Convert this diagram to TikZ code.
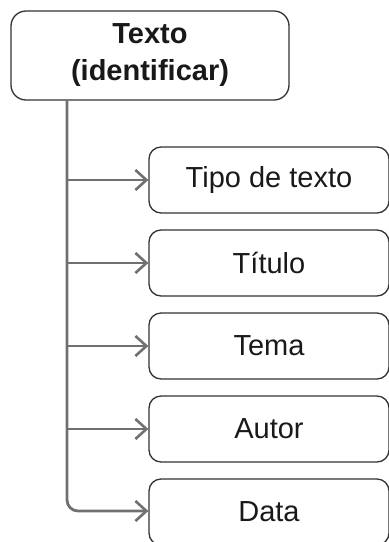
\documentclass[tikz,border=0pt]{standalone}
\usepackage{fontspec}
\setmainfont{Liberation Sans}
\usetikzlibrary{arrows.meta}
\definecolor{boxline}{HTML}{333333}
\definecolor{conn}{HTML}{707070}
\begin{document}
\begin{tikzpicture}[x=1pt,y=-1pt,
  topbox/.style={draw=boxline, line width=1.3pt, rounded corners=15pt, minimum width=278pt, minimum height=89pt, align=center, font=\fontsize{29}{37}\selectfont\bfseries, text=black!90},
  itembox/.style={draw=boxline, line width=1.3pt, rounded corners=12pt, minimum width=240pt, minimum height=66pt, font=\fontsize{29}{34}\selectfont, text=black!90},
  conn/.style={draw=conn, line width=2.8pt, -{Straight Barb[length=11pt,width=20pt,line width=2.6pt]}}]
\useasboundingbox (0,0) rectangle (389,542);
\clip (0,0) rectangle (389,542);
\node[topbox] (top) at (150,55.5) {Texto\\(identificar)};
\node[itembox] (b1) at (269,180) {Tipo de texto};
\node[itembox] (b2) at (269,263) {Título};
\node[itembox] (b3) at (269,346) {Tema};
\node[itembox] (b4) at (269,429) {Autor};
\node[itembox] (b5) at (269,512) {Data};
\coordinate (v) at (67,0);
\draw[conn, rounded corners=11pt] (top.south -| v) |- ([yshift=1pt]b5.west);
\draw[conn] (b1.west -| v) -- (b1.west);
\draw[conn] (b2.west -| v) -- (b2.west);
\draw[conn] (b3.west -| v) -- (b3.west);
\draw[conn] (b4.west -| v) -- (b4.west);
\end{tikzpicture}
\end{document}
